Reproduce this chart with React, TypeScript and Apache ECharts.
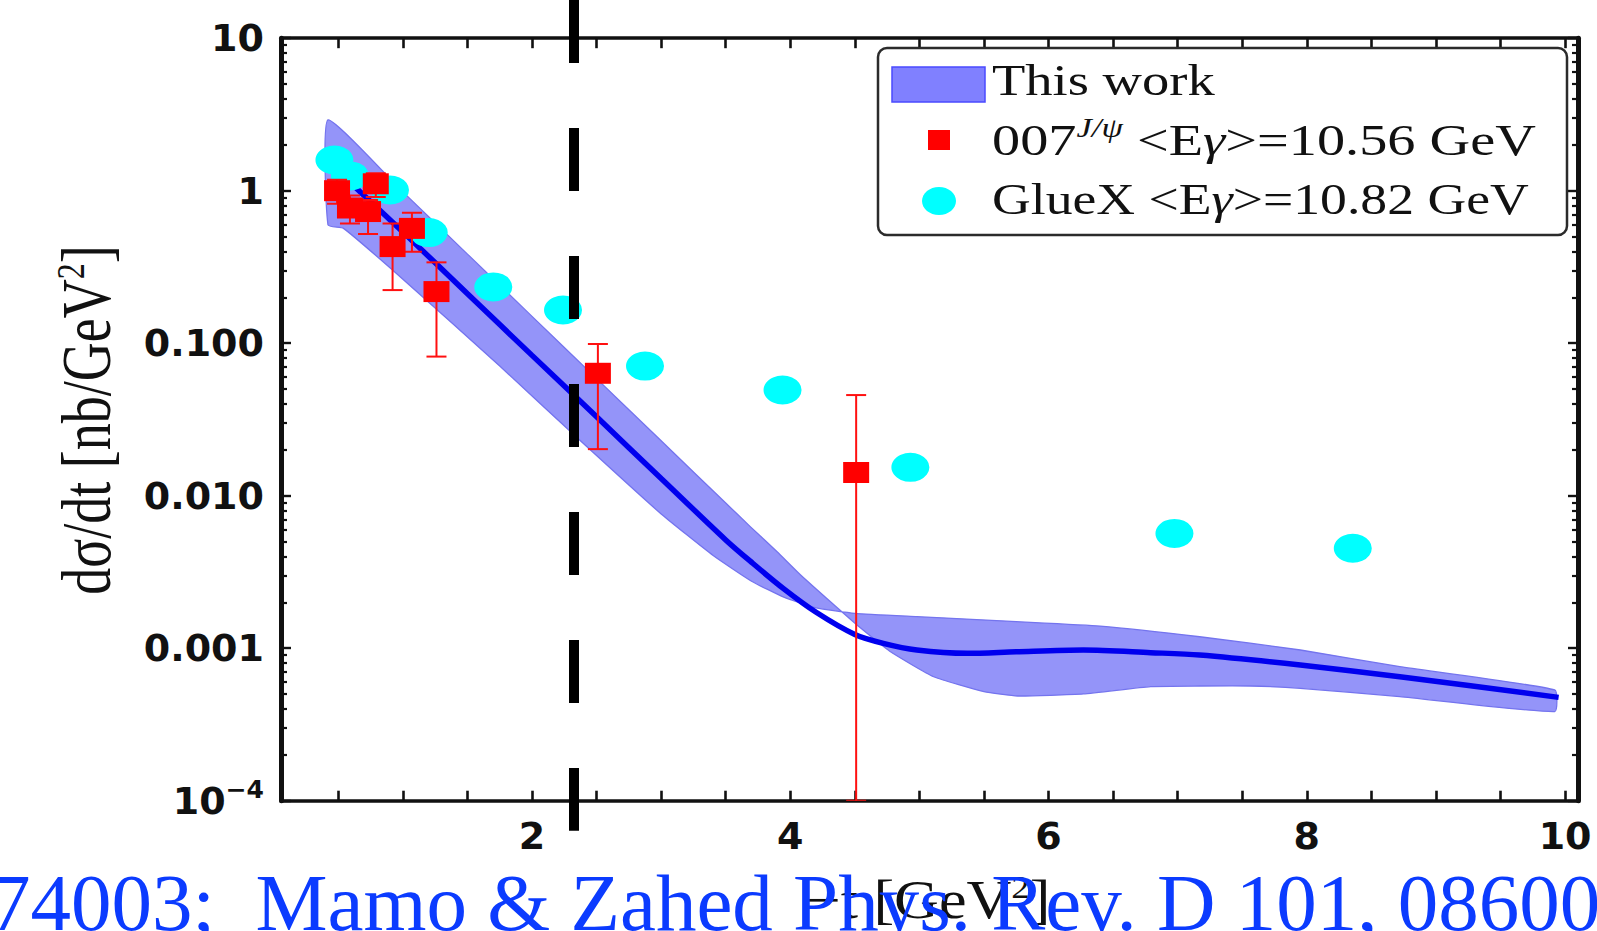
import React, { useEffect, useRef } from "react";
import * as echarts from "echarts";

// ---------------- axes ----------------
const X_MIN = 0.056;
const X_MAX = 10.1;
const Y_MIN = 0.0001;
const Y_MAX = 10;
const xTickValues = [0.5, 1, 1.5, 2, 2.5, 3, 3.5, 4, 4.5, 5, 5.5, 6, 6.5, 7, 7.5, 8, 8.5, 9, 9.5, 10];
const xLabelValues = [2, 4, 6, 8, 10];
const xTickLabels = ["2", "4", "6", "8", "10"];
const yMajorTicks = [0.0001, 0.001, 0.01, 0.1, 1, 10];
const yTickLabels = ["10{sup|−4}", "0.001", "0.010", "0.100", "1", "10"];
const yMinorTicks = [
  0.0002, 0.0003, 0.0004, 0.0005, 0.0006, 0.0007, 0.0008, 0.0009,
  0.002, 0.003, 0.004, 0.005, 0.006, 0.007, 0.008, 0.009,
  0.02, 0.03, 0.04, 0.05, 0.06, 0.07, 0.08, 0.09,
  0.2, 0.3, 0.4, 0.5, 0.6, 0.7, 0.8, 0.9,
  2, 3, 4, 5, 6, 7, 8, 9,
];

// ---------------- "This work": central curve ----------------
const thT = [0.42, 1.0, 1.5, 2.0, 2.5, 3.0, 3.5, 3.69, 3.95, 4.2, 4.5, 4.72, 4.98, 5.37, 5.75, 6.27, 6.79, 7.17, 7.95, 8.72, 9.95];
const thV = [1.549, 0.537, 0.2109, 0.0832, 0.0329, 0.01297, 0.00513, 0.00372, 0.00245, 0.00172, 0.00123, 0.001076, 0.000973, 0.000925, 0.000948, 0.000973, 0.000935, 0.000902, 0.000776, 0.00065, 0.000476];

// band edge A (upper at small -t, lower at large -t)
const bandAT = [0.42, 1.0, 1.5, 2.0, 2.5, 3.0, 3.5, 3.69, 3.9, 4.08, 4.41, 4.54, 4.77, 5.11, 5.5, 5.76, 6.27, 6.79, 7.17, 7.56, 7.95, 8.72, 9.92];
const bandAV = [2.911, 0.982, 0.3837, 0.15, 0.0586, 0.0229, 0.00895, 0.00627, 0.00427, 0.00302, 0.0017, 0.001365, 0.000955, 0.00065, 0.000519, 0.000486, 0.000501, 0.00056, 0.000565, 0.000565, 0.000546, 0.000482, 0.000384];
// band edge B (lower at small -t, upper at large -t)
const bandBT = [0.42, 0.54, 1.0, 1.75, 2.4, 3.0, 3.4, 3.7, 3.95, 4.2, 4.5, 4.98, 5.75, 6.4, 7.17, 7.95, 8.72, 9.92];
const bandBV = [0.5957, 0.5662, 0.263, 0.0708, 0.0219, 0.00759, 0.00407, 0.00275, 0.00216, 0.00184, 0.001694, 0.001611, 0.001493, 0.001396, 0.001189, 0.000973, 0.000757, 0.000532];

// ---------------- GlueX ----------------
const gxT = [0.47, 0.59, 0.9, 1.2, 1.7, 2.24, 2.875, 3.94, 4.93, 6.975, 8.356];
const gxV = [1.59, 1.25, 1.01, 0.531, 0.234, 0.165, 0.0708, 0.0493, 0.01535, 0.00566, 0.00452];

// ---------------- 007 J/psi ----------------
const e7T = [0.49, 0.59, 0.73, 0.79, 0.92, 1.07, 1.26, 2.51, 4.51];
const e7V = [1.0, 0.77, 0.73, 1.11, 0.43, 0.566, 0.218, 0.0635, 0.0142];
const e7Lo = [0.82, 0.61, 0.52, 0.91, 0.223, 0.398, 0.0817, 0.0202, 0.0001];
const e7Hi = [1.18, 0.93, 0.87, 1.3, 0.61, 0.718, 0.339, 0.0988, 0.0457];

// vertical dashed cut
const cutT = [2.325];

// ---------------- texts ----------------
const legendLabels = [
  "This work",
  "007{sup|J/ψ} <E{it|γ}>=10.56 GeV",
  "GlueX <E{it|γ}>=10.82 GeV",
];
const xTitle = "−t [GeV{sup|2}]";
const yTitle = "dσ/dt [nb/GeV{sup|2}]";
const caption = "74003;  Mamo & Zahed Phys. Rev. D 101, 08600";

const SANS = "'DejaVu Sans', 'Liberation Sans', sans-serif";
const SERIF = "'Liberation Serif', 'Times New Roman', serif";
const INK = "#111111";

export default function App() {
  const ref = useRef<HTMLDivElement>(null);

  useEffect(() => {
    if (!ref.current) return;
    const chart = echarts.init(ref.current, null, { renderer: "svg" });

    const xAxisBase = {
      type: "value",
      min: X_MIN,
      max: X_MAX,
      splitLine: { show: false },
      axisLine: { show: true, onZero: false, lineStyle: { color: INK, width: 3.5 } },
      axisTick: {
        show: true,
        inside: true,
        length: 10,
        customValues: xTickValues,
        lineStyle: { color: INK, width: 2.6 },
      },
    };

    const yAxisBase = {
      type: "log",
      logBase: 10,
      min: Y_MIN,
      max: Y_MAX,
      splitLine: { show: false },
      minorTick: { show: false },
    };

    const yFmt = (v: number) => {
      const idx = yMajorTicks.findIndex(
        (t) => Math.abs(Math.log10(t) - Math.log10(v)) < 1e-6
      );
      return idx >= 0 ? yTickLabels[idx] : "";
    };
    const xFmt = (v: number) => {
      const idx = xLabelValues.findIndex((t) => Math.abs(t - v) < 1e-9);
      return idx >= 0 ? xTickLabels[idx] : "";
    };

    const option: any = {
      animation: false,
      backgroundColor: "#ffffff",
      textStyle: { fontFamily: SANS },
      grid: { left: 281, right: 19, top: 38.2, bottom: 130.3, containLabel: false },
      xAxis: [
        {
          ...xAxisBase,
          position: "bottom",
          axisLabel: {
            show: true,
            customValues: xLabelValues,
            formatter: xFmt,
            margin: 16,
            fontFamily: SANS,
            fontWeight: "bold",
            fontSize: 38,
            color: INK,
          },
        },
        {
          ...xAxisBase,
          position: "top",
          axisLabel: { show: false },
        },
      ],
      yAxis: [
        {
          ...yAxisBase,
          position: "left",
          axisLine: { show: true, lineStyle: { color: INK, width: 5 } },
          axisTick: {
            show: true,
            inside: true,
            length: 10,
            customValues: yMajorTicks,
            lineStyle: { color: INK, width: 2.4 },
          },
          axisLabel: {
            show: true,
            customValues: yMajorTicks,
            formatter: yFmt,
            margin: 17,
            fontFamily: SANS,
            fontWeight: "bold",
            fontSize: 38,
            color: INK,
            rich: {
              sup: { fontFamily: SANS, fontWeight: "bold", fontSize: 25, color: INK, padding: [0, 0, 22, 0] },
            },
          },
        },
        {
          ...yAxisBase,
          position: "right",
          axisLine: { show: true, lineStyle: { color: INK, width: 5 } },
          axisTick: {
            show: true,
            inside: true,
            length: 10,
            customValues: yMajorTicks,
            lineStyle: { color: INK, width: 2.4 },
          },
          axisLabel: { show: false },
        },
        {
          ...yAxisBase,
          position: "left",
          axisLine: { show: false },
          axisTick: {
            show: true,
            inside: true,
            length: 6,
            customValues: yMinorTicks,
            lineStyle: { color: INK, width: 2.2 },
          },
          axisLabel: { show: false },
        },
        {
          ...yAxisBase,
          position: "right",
          axisLine: { show: false },
          axisTick: {
            show: true,
            inside: true,
            length: 6,
            customValues: yMinorTicks,
            lineStyle: { color: INK, width: 2.2 },
          },
          axisLabel: { show: false },
        },
      ],
      series: [
        {
          name: "This work band",
          type: "custom",
          coordinateSystem: "cartesian2d",
          xAxisIndex: 0,
          yAxisIndex: 0,
          clip: true,
          z: 1,
          data: [[bandAT[0], bandAV[0]]],
          renderItem: (_params: any, api: any) => {
            const pts: number[][] = [];
            for (let i = 0; i < bandAT.length; i++) pts.push(api.coord([bandAT[i], bandAV[i]]));
            for (let i = bandBT.length - 1; i >= 0; i--) pts.push(api.coord([bandBT[i], bandBV[i]]));
            return {
              type: "polygon",
              shape: { points: pts, smooth: 0.15 },
              style: { fill: "#9494f9", stroke: "#7474ee", lineWidth: 1.3 },
            };
          },
        },
        {
          name: "This work",
          type: "line",
          xAxisIndex: 0,
          yAxisIndex: 0,
          z: 2,
          smooth: 0.3,
          symbol: "none",
          showSymbol: false,
          lineStyle: { color: "#0000ee", width: 5.5 },
          data: thT.map((t, i) => [t, thV[i]]),
        },
        {
          name: "GlueX <Eγ>=10.82 GeV",
          type: "scatter",
          xAxisIndex: 0,
          yAxisIndex: 0,
          z: 3,
          symbol: "circle",
          symbolSize: [38, 29],
          itemStyle: { color: "#00ffff", opacity: 1 },
          data: gxT.map((t, i) => [t, gxV[i]]),
        },
        {
          name: "007 error bars",
          type: "custom",
          coordinateSystem: "cartesian2d",
          xAxisIndex: 0,
          yAxisIndex: 0,
          clip: true,
          z: 4,
          encode: { x: 0, y: 1 },
          data: e7T.map((t, i) => [t, e7V[i], e7Lo[i], e7Hi[i]]),
          renderItem: (_params: any, api: any) => {
            const x = api.value(0);
            const lo = api.coord([x, api.value(2)]);
            const hi = api.coord([x, api.value(3)]);
            const cw = 10;
            const st = { stroke: "#ff1010", lineWidth: 2 };
            return {
              type: "group",
              children: [
                { type: "line", shape: { x1: lo[0], y1: lo[1], x2: hi[0], y2: hi[1] }, style: st },
                { type: "line", shape: { x1: lo[0] - cw, y1: lo[1], x2: lo[0] + cw, y2: lo[1] }, style: st },
                { type: "line", shape: { x1: hi[0] - cw, y1: hi[1], x2: hi[0] + cw, y2: hi[1] }, style: st },
              ],
            };
          },
        },
        {
          name: "007 J/ψ <Eγ>=10.56 GeV",
          type: "scatter",
          xAxisIndex: 0,
          yAxisIndex: 0,
          z: 5,
          symbol: "rect",
          symbolSize: [26, 21],
          itemStyle: { color: "#ff0000", opacity: 1 },
          data: e7T.map((t, i) => [t, e7V[i]]),
        },
        {
          name: "cut",
          type: "custom",
          coordinateSystem: "cartesian2d",
          xAxisIndex: 0,
          yAxisIndex: 0,
          clip: false,
          z: 6,
          data: cutT.map((t) => [t, 1]),
          renderItem: (_params: any, api: any) => {
            const x = api.value(0);
            const top = api.coord([x, Y_MAX]);
            const bottom = api.coord([x, Y_MIN]);
            return {
              type: "line",
              shape: { x1: top[0], y1: 0, x2: top[0], y2: bottom[1] + 30 },
              style: { stroke: "#000000", lineWidth: 10, lineDash: [63, 65] },
            };
          },
        },
      ],
      graphic: [
        // legend box
        {
          type: "rect",
          z: 10,
          shape: { x: 878, y: 48, width: 689, height: 187, r: 9 },
          style: { fill: "#ffffff", stroke: "#2b2b2b", lineWidth: 2.5 },
        },
        {
          type: "rect",
          z: 11,
          shape: { x: 892, y: 67, width: 93, height: 35 },
          style: { fill: "#8080ff", stroke: "#4a4aff", lineWidth: 1.5 },
        },
        {
          type: "rect",
          z: 11,
          shape: { x: 928, y: 130, width: 22, height: 20 },
          style: { fill: "#ff0000" },
        },
        {
          type: "ellipse",
          z: 11,
          shape: { cx: 939, cy: 201, rx: 17, ry: 14 },
          style: { fill: "#00ffff" },
        },
        ...legendLabels.map((txt, i) => ({
          type: "text",
          z: 12,
          x: 992,
          y: [80, 140, 199][i],
          scaleX: [1.24, 1.28, 1.22][i],
          style: {
            text: txt,
            fontFamily: SERIF,
            fontSize: 44,
            fill: INK,
            align: "left",
            verticalAlign: "middle",
            rich: {
              sup: { fontFamily: SERIF, fontSize: 27, fontStyle: "italic", fill: INK, padding: [0, 0, 24, 0] },
              it: { fontFamily: SERIF, fontSize: 44, fontStyle: "italic", fill: INK },
            },
          },
        })),
        // y axis title
        {
          type: "text",
          z: 12,
          x: 87,
          y: 420,
          rotation: Math.PI / 2,
          scaleY: 1.28,
          style: {
            text: yTitle,
            fontFamily: SERIF,
            fontSize: 54,
            fill: INK,
            align: "center",
            verticalAlign: "middle",
            rich: {
              sup: { fontFamily: SERIF, fontSize: 32, fill: INK, padding: [0, 0, 26, 0] },
            },
          },
        },
        // x axis title
        {
          type: "text",
          z: 15,
          x: 928,
          y: 900,
          scaleX: 1.15,
          style: {
            text: xTitle,
            fontFamily: SERIF,
            fontSize: 54,
            fill: INK,
            align: "center",
            verticalAlign: "middle",
            rich: {
              sup: { fontFamily: SERIF, fontSize: 32, fill: INK, padding: [0, 0, 26, 0] },
            },
          },
        },
        // blue caption overlay
        {
          type: "text",
          z: 20,
          x: -10,
          y: 903,
          style: {
            text: caption,
            fontFamily: SERIF,
            fontSize: 81,
            fill: "#0b3bff",
            align: "left",
            verticalAlign: "middle",
          },
        },
      ],
    };

    chart.setOption(option);
    return () => {
      chart.dispose();
    };
  }, []);

  return (
    <div
      ref={ref}
      style={{ position: "fixed", left: 0, top: 0, width: 1597, height: 931, background: "#fff" }}
    />
  );
}
